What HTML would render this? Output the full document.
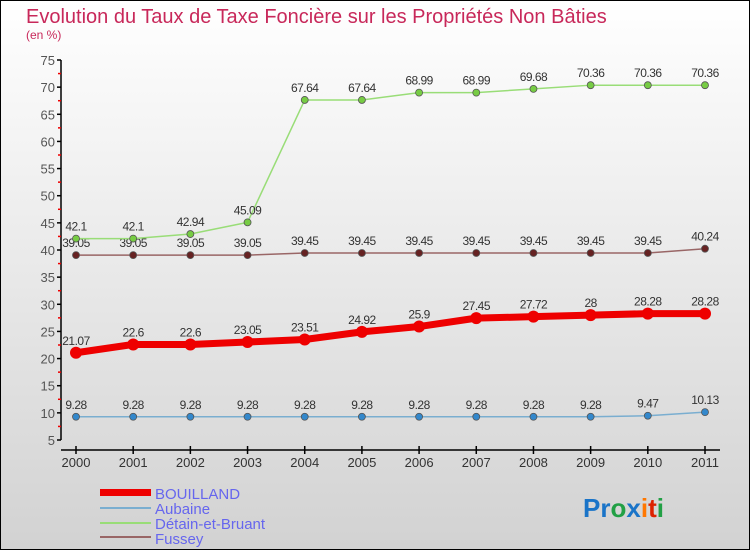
<!DOCTYPE html>
<html><head><meta charset="utf-8">
<style>
html,body{margin:0;padding:0;}
body{width:750px;height:550px;overflow:hidden;font-family:"Liberation Sans",sans-serif;}
</style></head>
<body>
<svg id="chart" width="750" height="550" xmlns="http://www.w3.org/2000/svg">
<defs>
<linearGradient id="bg" x1="0" y1="0" x2="0" y2="1">
<stop offset="0" stop-color="#ffffff"/><stop offset="1" stop-color="#d2d2d2"/>
</linearGradient>
</defs>
<rect x="0.5" y="0.5" width="749" height="549" fill="url(#bg)" stroke="#000" stroke-width="1"/>
<text x="26" y="23" font-size="20" fill="#c8285a">Evolution du Taux de Taxe Foncière sur les Propriétés Non Bâties</text>
<text x="26" y="39" font-size="12" fill="#c8285a">(en %)</text>
<g id="axes"></g>
<g id="series"></g>
<g id="legend">
<rect x="100" y="489" width="51" height="7" fill="#ee0000"/>
<text x="155" y="499" font-size="15" fill="#6666ee">BOUILLAND</text>
<rect x="100" y="507" width="51" height="2" fill="#7aaed0"/>
<text x="155" y="514" font-size="15" fill="#6666ee">Aubaine</text>
<rect x="100" y="522" width="51" height="2" fill="#99dd77"/>
<text x="155" y="529" font-size="15" fill="#6666ee">Détain-et-Bruant</text>
<rect x="100" y="536" width="51" height="2" fill="#996666"/>
<text x="155" y="544" font-size="15" fill="#6666ee">Fussey</text>
</g>
<g font-size="26" font-weight="bold">
<text x="583" y="517"><tspan fill="#1a74c8">Pr</tspan><tspan fill="#22a045">o</tspan><tspan fill="#1a74c8">x</tspan><tspan fill="#ff7700">i</tspan><tspan fill="#dd2200">t</tspan><tspan fill="#22a045">i</tspan></text>
</g>
</svg>
<script>
const years=["2000","2001","2002","2003","2004","2005","2006","2007","2008","2009","2010","2011"];
const bouilland=[21.07,22.6,22.6,23.05,23.51,24.92,25.9,27.45,27.72,28,28.28,28.28];
const aubaine=[9.28,9.28,9.28,9.28,9.28,9.28,9.28,9.28,9.28,9.28,9.47,10.13];
const detain=[42.1,42.1,42.94,45.09,67.64,67.64,68.99,68.99,69.68,70.36,70.36,70.36];
const fussey=[39.05,39.05,39.05,39.05,39.45,39.45,39.45,39.45,39.45,39.45,39.45,40.24];
const bouillandLabels=["21.07","22.6","22.6","23.05","23.51","24.92","25.9","27.45","27.72","28","28.28","28.28"];
const aubaineLabels=["9.28","9.28","9.28","9.28","9.28","9.28","9.28","9.28","9.28","9.28","9.47","10.13"];
const detainLabels=["42.1","42.1","42.94","45.09","67.64","67.64","68.99","68.99","69.68","70.36","70.36","70.36"];
const fusseyLabels=["39.05","39.05","39.05","39.05","39.45","39.45","39.45","39.45","39.45","39.45","39.45","40.24"];
const yTicks=[5,10,15,20,25,30,35,40,45,50,55,60,65,70,75];

const NS="http://www.w3.org/2000/svg";
const yMin=5,yMax=75,yTop=60,yBot=440;
function y(v){return yBot-(v-yMin)/(yMax-yMin)*(yBot-yTop);}
function x(i){return 76+i*(705-76)/(years.length-1);}
function mk(tag,attrs,parent){const e=document.createElementNS(NS,tag);for(const k in attrs)e.setAttribute(k,attrs[k]);parent.appendChild(e);return e;}

const axes=document.getElementById('axes');
const yAxis=mk('line',{x1:61,y1:yTop,x2:61,y2:yBot,stroke:'#000','stroke-width':1.5},axes);


yTicks.forEach(t=>{
  const tk=mk('line',{x1:57,y1:y(t),x2:61,y2:y(t),stroke:'#000','stroke-width':1.5},axes);
  
  
  if(t<yMax){const m=mk('line',{x1:58,y1:y(t+2.5),x2:61,y2:y(t+2.5),stroke:'#e00','stroke-width':1.5},axes);
    
    }
  const lb=mk('text',{x:55,y:y(t)+5,'text-anchor':'end','font-size':13,fill:'#555'},axes);
  
  
  lb.textContent=t;
});
const xAxis=mk('line',{x1:61,y1:450,x2:720,y2:450,stroke:'#000','stroke-width':1.5},axes);


years.forEach((yr,i)=>{
  const tk=mk('line',{x1:x(i),y1:446,x2:x(i),y2:454,stroke:'#000','stroke-width':1.5},axes);
  
  
  const lb=mk('text',{x:x(i),y:467,'text-anchor':'middle','font-size':13,fill:'#333'},axes);
  
  
  lb.textContent=yr;
});

const sg=document.getElementById('series');
function drawSeries(name,vals,labels,color,dot,width,r){
  const g=mk('g',{},sg);
  
  
  const pts=vals.map((v,i)=>x(i)+','+y(v)).join(' ');
  const pl=mk('polyline',{points:pts,fill:'none',stroke:color,'stroke-width':width,'stroke-linejoin':'round'},g);
  
  
  vals.forEach((v,i)=>{
    const c=mk('circle',{cx:x(i),cy:y(v),r:r,fill:dot,stroke:'#555','stroke-width':r>5?0:0.8},g);
    
    
    const t=mk('text',{x:x(i),y:y(v)-8,'text-anchor':'middle','font-size':12,fill:'#333','letter-spacing':'-0.5'},g);
    
    
    t.textContent=labels[i];
  });
}
drawSeries('fussey',fussey,fusseyLabels,'#996666','#662222',1.5,3.5);
drawSeries('detain',detain,detainLabels,'#99dd77','#77cc44',1.5,3.5);
drawSeries('aubaine',aubaine,aubaineLabels,'#7aaed0','#3388cc',1.5,3.5);
drawSeries('bouilland',bouilland,bouillandLabels,'#ee0000','#ee0000',7,6);
</script>
</body></html>
